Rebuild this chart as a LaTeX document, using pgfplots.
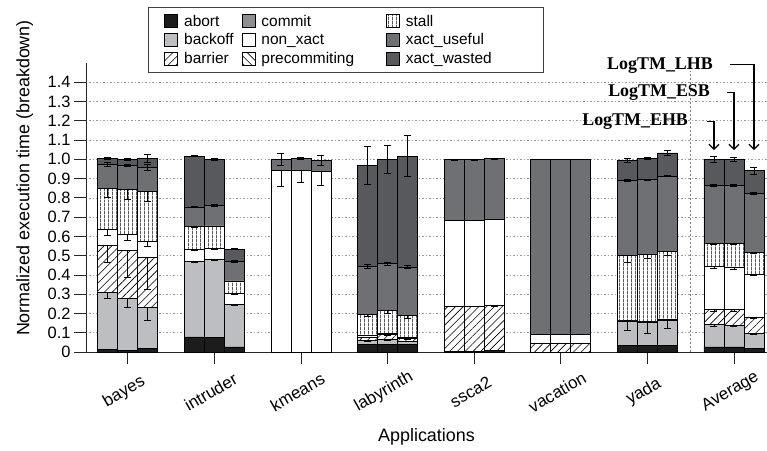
\documentclass[border=0pt]{standalone}
\usepackage{fontspec}
\setmainfont{Liberation Sans}
\newfontfamily\annotfont{Liberation Serif}
\usepackage{pgfplots}
\usepackage{pgfplotstable}
\pgfplotsset{compat=1.18}
\usetikzlibrary{patterns.meta, arrows.meta}

\definecolor{cAbort}{HTML}{1C1C1C}
\definecolor{cBackoff}{HTML}{BDBEC1}
\definecolor{cCommit}{HTML}{8D8E91}
\definecolor{cUseful}{HTML}{6F7073}
\definecolor{cWasted}{HTML}{58595C}
\definecolor{cGrid}{HTML}{9A9A9A}
\definecolor{cSep}{HTML}{7A7A7A}

% Per-bar breakdown (three configurations per application: EHB, ESB, LHB)
% x = bar position; e* = error of the segment top
\pgfplotstableread{
x      abort backoff barrier commit nonx  precom stall useful wasted eback ebarr enon  estall euse  ewas
-0.231 0.012 0.296   0.246   0      0.083 0      0.214 0.123  0.030  0.030 0.087 0.030 0.050  0.010 0.005
0      0.009 0.268   0.251   0      0.081 0      0.236 0.124  0.030  0.043 0.140 0.030 0.055  0.006 0.005
0.231  0.017 0.217   0.259   0      0.083 0      0.258 0.123  0.047  0.070 0.170 0.030 0.050  0.017 0.022
0.769  0.078 0.393   0       0      0.062 0      0.119 0.101  0.263  0.006 0     0.004 0.004  0.004 0.003
1      0.074 0.405   0       0      0.058 0      0.117 0.106  0.240  0.004 0     0.004 0.004  0.004 0.003
1.231  0.026 0.221   0       0      0.056 0      0.066 0.102  0.062  0.004 0     0.004 0.004  0.004 0.003
1.769  0     0       0       0      0.943 0      0     0.057  0      0     0     0.083 0      0.030 0
2      0     0       0       0      0.940 0      0     0.064  0      0     0     0.062 0      0.005 0
2.231  0     0       0       0      0.935 0      0     0.060  0      0     0     0.072 0      0.024 0
2.769  0.040 0.021   0.017   0      0.009 0      0.109 0.249  0.524  0.004 0.003 0.003 0.012  0.010 0.100
3      0.040 0.024   0.026   0      0.009 0      0.117 0.243  0.540  0.004 0.003 0.003 0.017  0.008 0.073
3.231  0.040 0.017   0.012   0      0.009 0      0.112 0.251  0.575  0.004 0.003 0.003 0.018  0.008 0.107
3.769  0.004 0       0.235   0      0.445 0      0     0.315  0      0     0.003 0.003 0      0.003 0
4      0.004 0       0.235   0      0.445 0      0     0.315  0      0     0.003 0.003 0      0.003 0
4.231  0.006 0       0.236   0      0.447 0      0     0.315  0      0     0.003 0.003 0      0.003 0
4.769  0     0       0.047   0      0.045 0      0     0.907  0      0     0     0     0      0     0
5      0     0       0.047   0      0.045 0      0     0.907  0      0     0     0     0      0     0
5.231  0     0       0.047   0      0.045 0      0     0.907  0      0     0     0     0      0     0
5.769  0.035 0.126   0.004   0      0     0      0.337 0.389  0.104  0.049 0     0     0.035  0.003 0.010
6      0.035 0.121   0.004   0      0     0      0.347 0.388  0.109  0.060 0     0     0.020  0.003 0.006
6.231  0.035 0.129   0.005   0      0     0      0.354 0.389  0.121  0.043 0     0     0.020  0.003 0.014
6.769  0.026 0.118   0.076   0      0.225 0      0.117 0.303  0.134  0.010 0.008 0.010 0.005  0.004 0.015
7      0.026 0.114   0.080   0      0.221 0      0.121 0.303  0.134  0.008 0.008 0.010 0.005  0.004 0.010
7.231  0.017 0.078   0.087   0      0.221 0      0.116 0.303  0.118  0.005 0.008 0.008 0.005  0.004 0.017
}\breakdown

% cumulative segment tops, where the error bars sit
\pgfplotstablecreatecol[create col/expr={\thisrow{abort}+\thisrow{backoff}}]{tback}{\breakdown}
\pgfplotstablecreatecol[create col/expr={\thisrow{tback}+\thisrow{barrier}}]{tbarr}{\breakdown}
\pgfplotstablecreatecol[create col/expr={\thisrow{tbarr}+\thisrow{commit}+\thisrow{nonx}}]{tnon}{\breakdown}
\pgfplotstablecreatecol[create col/expr={\thisrow{tnon}+\thisrow{precom}+\thisrow{stall}}]{tstall}{\breakdown}
\pgfplotstablecreatecol[create col/expr={\thisrow{tstall}+\thisrow{useful}}]{tuse}{\breakdown}
\pgfplotstablecreatecol[create col/expr={\thisrow{tuse}+\thisrow{wasted}}]{twas}{\breakdown}

\pgfplotsset{
  boxlegend/.style={legend image code/.code={
      \path (0bp,0bp) (23bp,0bp);
      \draw[##1,line width=0.8bp] (6bp,-6.5bp) rectangle (19bp,6.5bp);}},
  seg/.style={draw=black, line width=0.8bp, boxlegend},
  errdown/.style={draw=none, mark=none,
      error bars/.cd, y dir=minus, y explicit,
      error bar style={draw=black, line width=0.8bp},
      error mark options={draw=black, rotate=90, mark size=3.5bp, line width=0.8bp}},
  errboth/.style={draw=none, mark=none,
      error bars/.cd, y dir=both, y explicit,
      error bar style={draw=black, line width=0.8bp},
      error mark options={draw=black, rotate=90, mark size=3.5bp, line width=0.8bp}},
  frame/.style={width=681bp, height=289bp, scale only axis,
      xmin=-0.4815, xmax=7.382, ymin=0, ymax=1.5, clip=false},
}

\begin{document}
\begin{tikzpicture}
\begin{axis}[
  frame,
  ybar stacked, bar width=20bp,
  axis x line*=bottom, axis y line*=left,
  axis line style={-, black!85, line width=0.8bp},
  tick align=outside, major tick length=12bp,
  tick style={black!85, line width=0.8bp},
  xtick={0,1,2,3,4,5,6,7},
  xticklabels={bayes,intruder,kmeans,labyrinth,ssca2,vacation,yada,Average},
  xticklabel style={anchor=center, xshift=-3.5bp, yshift=-28bp, rotate=30,
    font=\fontsize{17}{20}\selectfont},
  ytick={0,0.1,0.2,0.3,0.4,0.5,0.6,0.7,0.8,0.9,1.0,1.1,1.2,1.3,1.4},
  yticklabels={0,0.1,0.2,0.3,0.4,0.5,0.6,0.7,0.8,0.9,1.0,1.1,1.2,1.3,1.4},
  yticklabel style={font=\fontsize{16.5}{19}\selectfont},
  ymajorgrids,
  major grid style={cGrid, dash pattern=on 1.5bp off 2bp, line width=0.6bp},
  xlabel={Applications},
  ylabel={Normalized execution time (breakdown)},
  label style={font=\fontsize{18}{21}\selectfont},
  xlabel style={at={(axis description cs:0.5,-0.294)}, anchor=center},
  ylabel style={at={(axis description cs:-0.09,0.602)}, anchor=center},
  legend style={at={(0.091,1.194)}, anchor=north west,
    draw=black!75, line width=0.8bp,
    font=\fontsize{15.5}{17}\selectfont,
    inner xsep=10bp, inner ysep=5.5bp, row sep=2bp,
    /tikz/column 2/.style={column sep=0bp},
    /tikz/column 4/.style={column sep=24bp}},
  legend columns=3, transpose legend, legend cell align=left,
]
\addplot[seg, fill=cAbort] table[x=x, y=abort] {\breakdown};
\addlegendentry{abort}
\addplot[seg, fill=cBackoff] table[x=x, y=backoff] {\breakdown};
\addlegendentry{backoff}
\addplot[seg, fill=white, postaction={pattern={Lines[angle=45, distance=5.5bp, line width=0.6bp]}}]
  table[x=x, y=barrier] {\breakdown};
\addlegendentry{barrier}
\addplot[seg, fill=cCommit] table[x=x, y=commit] {\breakdown};
\addlegendentry{commit}
\addplot[seg, fill=white] table[x=x, y=nonx] {\breakdown};
\addlegendentry{non\_xact}
\addplot[seg, fill=white, postaction={pattern={Lines[angle=-45, distance=5.5bp, line width=0.6bp]}}]
  table[x=x, y=precom] {\breakdown};
\addlegendentry{precommiting}
\addplot[seg, fill=white, postaction={pattern={Lines[angle=90, distance=3.6bp, line width=0.6bp]}}]
  table[x=x, y=stall] {\breakdown};
\addlegendentry{stall}
\addplot[seg, fill=cUseful] table[x=x, y=useful] {\breakdown};
\addlegendentry{xact\_useful}
\addplot[seg, fill=cWasted] table[x=x, y=wasted] {\breakdown};
\addlegendentry{xact\_wasted\hspace*{40bp}}

% separator before the average group
\draw[cSep, dash pattern=on 2bp off 2bp, line width=1.3bp] (axis cs:6.5,0) -- (axis cs:6.5,1.46);

% configuration labels
\node[font=\annotfont\bfseries\fontsize{18}{20}\selectfont, anchor=east, inner sep=0pt]
  at (axis cs:6.759,1.489) {LogTM\_LHB};
\node[font=\annotfont\bfseries\fontsize{18}{20}\selectfont, anchor=east, inner sep=0pt]
  at (axis cs:6.725,1.345) {LogTM\_ESB};
\node[font=\annotfont\bfseries\fontsize{18}{20}\selectfont, anchor=east, inner sep=0pt]
  at (axis cs:6.471,1.198) {LogTM\_EHB};
\draw[line width=1.2bp, -{Straight Barb[length=5bp,width=10bp]}]
  (axis cs:6.957,1.494) -| (axis cs:7.231,1.048);
\draw[line width=1.2bp, -{Straight Barb[length=5bp,width=10bp]}]
  (axis cs:6.920,1.345) -| (axis cs:7.000,1.048);
\draw[line width=1.2bp, -{Straight Barb[length=5bp,width=10bp]}]
  (axis cs:6.690,1.198) -| (axis cs:6.769,1.048);
\end{axis}

% error bars at the segment tops
\begin{axis}[frame, hide axis]
\addplot[errdown] table[x=x, y=tback, y error=eback] {\breakdown};
\addplot[errdown] table[x=x, y=tbarr, y error=ebarr] {\breakdown};
\addplot[errdown] table[x=x, y=tnon, y error=enon] {\breakdown};
\addplot[errdown] table[x=x, y=tstall, y error=estall] {\breakdown};
\addplot[errboth] table[x=x, y=tuse, y error=euse] {\breakdown};
\addplot[errboth] table[x=x, y=twas, y error=ewas] {\breakdown};
\end{axis}
\pgfresetboundingbox
\path ([xshift=-86bp,yshift=-99bp]current axis.south west) rectangle ([yshift=63bp]current axis.north east);
\end{tikzpicture}
\end{document}
